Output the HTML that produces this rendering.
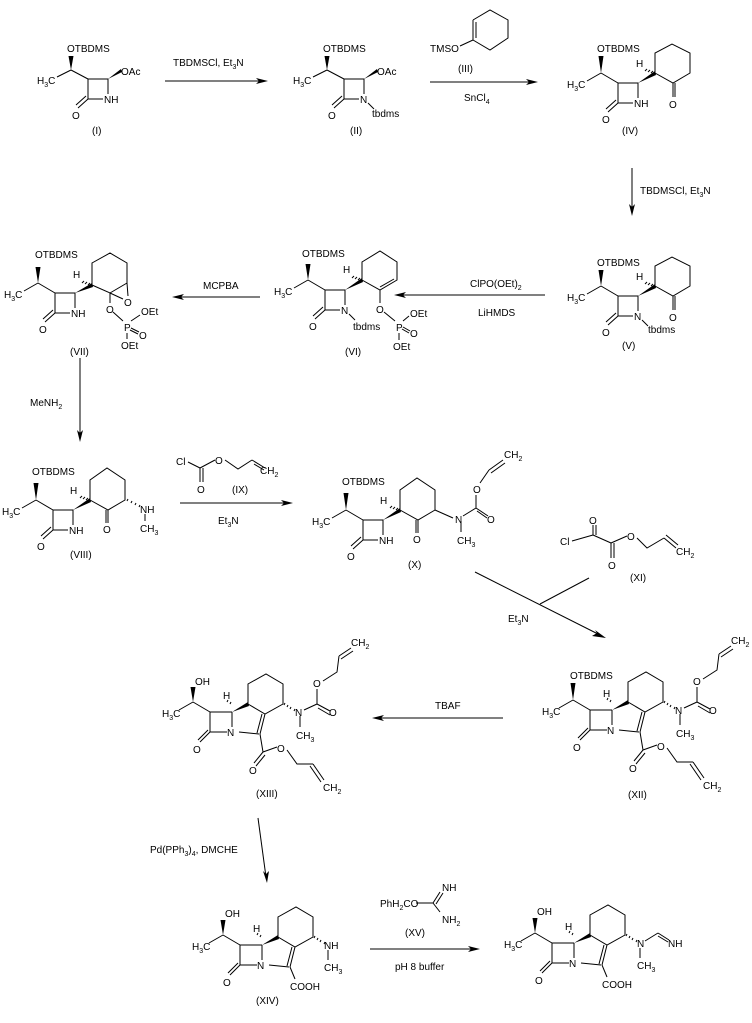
<!DOCTYPE html>
<html><head><meta charset="utf-8"><style>
html,body{margin:0;padding:0;background:#fff;}
svg{display:block;}
text{font-family:"Liberation Sans",Arial,sans-serif;font-size:10px;fill:#000;}
.s{font-size:7px;}
line,path,polyline{stroke:#000;stroke-width:1;fill:none;}
.f{fill:#000;stroke:none;}
</style></head><body>
<svg width="752" height="1023" viewBox="0 0 752 1023" xmlns="http://www.w3.org/2000/svg">

<!-- ===== (I) ===== -->
<g transform="translate(88,79)">
<text x="-21" y="-27">OTBDMS</text>
<polygon class="f" points="-17,-9 -19.5,-23 -14.5,-23"/>
<path d="M-17,-9L0,0 M-17,-9L-31,-2"/>
<text x="-51" y="5">H<tspan class="s" dy="3">3</tspan><tspan dy="-3">C</tspan></text>
<path d="M0,0H20V15 M0,0V20H15"/>
<path d="M0,20L-10,29 M-2,17L-12,26"/>
<text x="-16" y="40">O</text>
<text x="16" y="24">NH</text>
<polygon class="f" points="20,0 33,-10 34,-7"/>
<text x="33" y="-4">OAc</text>
</g>
<text x="92" y="134">(I)</text>

<line x1="165" y1="81" x2="262" y2="81"/>
<polygon class="f" points="268,81 256,78 259,81 256,84"/>
<text x="173" y="66">TBDMSCl, Et<tspan class="s" dy="3">3</tspan><tspan dy="-3">N</tspan></text>

<!-- ===== (II) ===== -->
<g transform="translate(344,79)">
<text x="-21" y="-27">OTBDMS</text>
<polygon class="f" points="-17,-9 -19.5,-23 -14.5,-23"/>
<path d="M-17,-9L0,0 M-17,-9L-31,-2"/>
<text x="-51" y="5">H<tspan class="s" dy="3">3</tspan><tspan dy="-3">C</tspan></text>
<path d="M0,0H20V15 M0,0V20H15"/>
<path d="M0,20L-10,29 M-2,17L-12,26"/>
<text x="-16" y="40">O</text>
<text x="16" y="24">N</text>
<path d="M24,24L30,30"/>
<text x="28" y="38">tbdms</text>
<polygon class="f" points="20,0 33,-10 34,-7"/>
<text x="33" y="-4">OAc</text>
</g>
<text x="350" y="134">(II)</text>

<path d="M473,20V40 M476,22V38 M473,20L490,10L508,20V38L490,50L473,40 M473,40L460,46"/>
<text x="430" y="52">TMSO</text>
<text x="458" y="72">(III)</text>
<line x1="430" y1="82" x2="532" y2="82"/>
<polygon class="f" points="538,82 526,79 529,82 526,85"/>
<text x="464" y="101">SnCl<tspan class="s" dy="3">4</tspan></text>

<!-- ===== (IV) ===== -->
<g transform="translate(618,83)">
<text x="-21" y="-31">OTBDMS</text>
<polygon class="f" points="-17,-10 -19.5,-27 -14.5,-27"/>
<path d="M-17,-10L0,0 M-17,-10L-31,-2"/>
<text x="-51" y="5">H<tspan class="s" dy="3">3</tspan><tspan dy="-3">C</tspan></text>
<path d="M0,0H20V15 M0,0V20H15"/>
<path d="M0,20L-10,29 M-2,17L-12,26"/>
<text x="-16" y="40">O</text>
<text x="16" y="24">NH</text>
<polygon class="f" points="20,0 37,-12 38,-8"/>
<text x="18" y="-16">H</text>
<path d="M27,-12l2,-2 M30,-11l2,-2 M33,-10l2,-2" />
<path d="M37,-10V-30L54,-39L72,-30V-10L55,0Z M55,0V14 M57,0V14"/>
<text x="51" y="25">O</text>
</g>
<text x="622" y="134">(IV)</text>

<line x1="632" y1="168" x2="632" y2="210"/>
<polygon class="f" points="632,216 629,204 632,207 635,204"/>
<text x="640" y="194">TBDMSCl, Et<tspan class="s" dy="3">3</tspan><tspan dy="-3">N</tspan></text>

<!-- ===== (V) ===== -->
<g transform="translate(618,296)">
<text x="-21" y="-30">OTBDMS</text>
<polygon class="f" points="-17,-10 -19.5,-26 -14.5,-26"/>
<path d="M-17,-10L0,0 M-17,-10L-31,-2"/>
<text x="-51" y="5">H<tspan class="s" dy="3">3</tspan><tspan dy="-3">C</tspan></text>
<path d="M0,0H20V15 M0,0V20H15"/>
<path d="M0,20L-10,29 M-2,17L-12,26"/>
<text x="-16" y="40">O</text>
<text x="16" y="24">N</text>
<path d="M24,24L30,30"/>
<text x="30" y="37">tbdms</text>
<polygon class="f" points="20,0 37,-12 38,-8"/>
<text x="18" y="-16">H</text>
<path d="M27,-12l2,-2 M30,-11l2,-2 M33,-10l2,-2" />
<path d="M37,-10V-30L54,-39L72,-30V-10L55,0Z M55,0V14 M57,0V14"/>
<text x="51" y="25">O</text>
</g>
<text x="622" y="349">(V)</text>

<line x1="545" y1="295" x2="400" y2="295"/>
<polygon class="f" points="394,295 406,292 403,295 406,298"/>
<text x="470" y="287">ClPO(OEt)<tspan class="s" dy="3">2</tspan></text>
<text x="478" y="316">LiHMDS</text>

<!-- ===== (VI) ===== -->
<g transform="translate(325,290)">
<text x="-23" y="-33">OTBDMS</text>
<polygon class="f" points="-17,-10 -19.5,-26 -14.5,-26"/>
<path d="M-17,-10L0,0 M-17,-10L-31,-2"/>
<text x="-51" y="5">H<tspan class="s" dy="3">3</tspan><tspan dy="-3">C</tspan></text>
<path d="M0,0H20V15 M0,0V20H15"/>
<path d="M0,20L-10,29 M-2,17L-12,26"/>
<text x="-16" y="40">O</text>
<text x="16" y="24">N</text>
<path d="M24,24L30,30"/>
<text x="28" y="40">tbdms</text>
<polygon class="f" points="20,0 37,-12 38,-8"/>
<text x="18" y="-17">H</text>
<path d="M27,-12l2,-2 M30,-11l2,-2 M33,-10l2,-2" />
<path d="M37,-10V-28L55,-39L72,-28V-10L55,0Z M69,-11L55,-3 M55,0V13"/>
<text x="51" y="23">O</text>
<path d="M59,22L70,31 M74,43V50 M78,31L84,26 M78,37L85,41 M77,39L84,43"/>
<text x="71" y="41">P</text>
<text x="85" y="27">OEt</text>
<text x="85" y="47">O</text>
<text x="68" y="60">OEt</text>
</g>
<text x="345" y="355">(VI)</text>

<line x1="260" y1="297" x2="178" y2="297"/>
<polygon class="f" points="172,297 184,294 181,297 184,300"/>
<text x="203" y="289">MCPBA</text>

<!-- ===== (VII) ===== -->
<g transform="translate(55,293)">
<text x="-20" y="-35">OTBDMS</text>
<polygon class="f" points="-17,-10 -19.5,-26 -14.5,-26"/>
<path d="M-17,-10L0,0 M-17,-10L-31,-2"/>
<text x="-51" y="5">H<tspan class="s" dy="3">3</tspan><tspan dy="-3">C</tspan></text>
<path d="M0,0H20V15 M0,0V20H15"/>
<path d="M0,20L-10,29 M-2,17L-12,26"/>
<text x="-16" y="40">O</text>
<text x="16" y="24">NH</text>
<polygon class="f" points="20,0 37,-10 38,-6"/>
<text x="18" y="-15">H</text>
<path d="M27,-10l2,-2 M30,-9l2,-2 M33,-8l2,-2" />
<path d="M37,-8V-30L55,-40L72,-30V-10L55,0Z M72,-10L73,3 M55,0L68,6"/>
<text x="69" y="13">O</text>
<path d="M55,0V10"/>
<text x="51" y="20">O</text>
<path d="M58,19L68,28 M72,40V46 M76,28L85,22 M76,35L84,39 M75,37L83,41"/>
<text x="69" y="38">P</text>
<text x="86" y="22">OEt</text>
<text x="84" y="46">O</text>
<text x="66" y="56">OEt</text>
</g>
<text x="70" y="355">(VII)</text>

<line x1="80" y1="358" x2="80" y2="436"/>
<polygon class="f" points="80,442 77,430 80,433 83,430"/>
<text x="30" y="406">MeNH<tspan class="s" dy="3">2</tspan></text>

<!-- ===== (VIII) ===== -->
<g transform="translate(53,510)">
<text x="-21" y="-35">OTBDMS</text>
<polygon class="f" points="-17,-10 -19.5,-27 -14.5,-27"/>
<path d="M-17,-10L0,0 M-17,-10L-31,-2"/>
<text x="-51" y="5">H<tspan class="s" dy="3">3</tspan><tspan dy="-3">C</tspan></text>
<path d="M0,0H20V15 M0,0V20H15"/>
<path d="M0,20L-10,29 M-2,17L-12,26"/>
<text x="-16" y="40">O</text>
<text x="16" y="24">NH</text>
<polygon class="f" points="20,0 37,-12 38,-8"/>
<text x="17" y="-16">H</text>
<path d="M27,-12l2,-2 M30,-11l2,-2 M33,-10l2,-2" />
<path d="M37,-10V-30L54,-42L72,-30V-10L55,0Z M55,0V13 M53,0V13"/>
<text x="50" y="23">O</text>
<path d="M74,-9l1,-2 M78,-7l1,-2 M82,-5l1,-2 M86,-3l1,-2 M92,4V11"/>
<text x="87" y="3">NH</text>
<text x="87" y="22">CH<tspan class="s" dy="3">3</tspan></text>
</g>
<text x="70" y="558">(VIII)</text>

<text x="176" y="465">Cl</text>
<path d="M188,462L200,468 M200,468V482 M203,468V482 M200,468L215,460 M225,460L238,469L252,460 M252,460L265,468 M254,464L264,470"/>
<text x="197" y="493">O</text>
<text x="215" y="464">O</text>
<text x="260" y="474">CH<tspan class="s" dy="3">2</tspan></text>
<text x="232" y="493">(IX)</text>
<line x1="180" y1="503" x2="287" y2="503"/>
<polygon class="f" points="293,503 281,500 284,503 281,506"/>
<text x="218" y="524">Et<tspan class="s" dy="3">3</tspan><tspan dy="-3">N</tspan></text>

<!-- ===== (X) ===== -->
<g transform="translate(363,520)">
<text x="-21" y="-35">OTBDMS</text>
<polygon class="f" points="-17,-10 -19.5,-27 -14.5,-27"/>
<path d="M-17,-10L0,0 M-17,-10L-31,-2"/>
<text x="-51" y="5">H<tspan class="s" dy="3">3</tspan><tspan dy="-3">C</tspan></text>
<path d="M0,0H20V15 M0,0V20H15"/>
<path d="M0,20L-10,29 M-2,17L-12,26"/>
<text x="-16" y="40">O</text>
<text x="16" y="24">NH</text>
<polygon class="f" points="20,0 37,-12 38,-8"/>
<text x="17" y="-16">H</text>
<path d="M27,-12l2,-2 M30,-11l2,-2 M33,-10l2,-2" />
<path d="M37,-10V-30L54,-42L72,-30V-10L55,0Z M55,0V13 M53,0V13"/>
<text x="50" y="23">O</text>
<path d="M72,-10L90,-2 M98,1V12 M100,-4L113,-12 M113,-12L125,-4 M114,-9L124,-2 M113,-12V-25 M117,-37L126,-50 M126,-50L140,-60 M128,-47L142,-57"/>
<text x="92" y="3">N</text>
<text x="94" y="24">CH<tspan class="s" dy="3">3</tspan></text>
<text x="124" y="3">O</text>
<text x="110" y="-27">O</text>
<text x="141" y="-62">CH<tspan class="s" dy="3">2</tspan></text>
</g>
<text x="408" y="568">(X)</text>

<!-- (XI) -->
<text x="560" y="545">Cl</text>
<path d="M572,541L593,535 M593,535V525 M596,535V525 M593,535L611,543 M611,543V558 M614,543V558 M611,543L627,536 M637,538L647,548L664,538 M664,538L676,548 M666,535L678,545"/>
<text x="589" y="524">O</text>
<text x="608" y="569">O</text>
<text x="627" y="540">O</text>
<text x="676" y="555">CH<tspan class="s" dy="3">2</tspan></text>
<text x="630" y="581">(XI)</text>

<line x1="475" y1="572" x2="600" y2="635"/>
<polygon class="f" points="606,638 595,630 597,633 592,636"/>
<line x1="540" y1="604" x2="589" y2="578"/>
<text x="508" y="622">Et<tspan class="s" dy="3">3</tspan><tspan dy="-3">N</tspan></text>

<!-- ===== (XII) ===== -->
<g transform="translate(590,710)">
<text x="-20" y="-31">OTBDMS</text>
<polygon class="f" points="-17,-10 -19.5,-27 -14.5,-27"/>
<path d="M-17,-10L0,0 M-17,-10L-31,-2"/>
<text x="-48" y="5">H<tspan class="s" dy="3">3</tspan><tspan dy="-3">C</tspan></text>
<path d="M0,0H22 M0,0V20H17"/>
<path d="M0,20L-10,30 M-2,18L-12,28"/>
<text x="-17" y="41">O</text>
<text x="17" y="24">N</text>
<path d="M22,0V15"/>
<polygon class="f" points="22,0 38,-10 39,-6"/>
<text x="13" y="-13">H</text>
<path d="M20,-8l1,-2 M17,-10l1,-2"/>
<path d="M38,-8V-28L56,-38L73,-28V-8L55,2Z M55,2L50,22 M52,2L47,21 M29,20L49,22"/>
<path d="M74,-7l1,-2 M77,-5l1,-2 M80,-3l1,-2 M84,-1l1,-2 M90,4V15"/>
<text x="85" y="4">N</text>
<text x="86" y="27">CH<tspan class="s" dy="3">3</tspan></text>
<path d="M94,-2L107,-8 M107,-8L120,-1 M108,-4L120,3 M107,-8V-23 M113,-31L127,-40L129,-56 M129,-56L141,-64 M131,-53L143,-61"/>
<text x="119" y="4">O</text>
<text x="103" y="-25">O</text>
<text x="141" y="-66">CH<tspan class="s" dy="3">2</tspan></text>
<path d="M50,22L53,40 M53,40L44,51 M55,43L46,54 M53,40L67,35 M77,38L87,52L103,52 M103,52L114,68 M100,54L111,70"/>
<text x="39" y="62">O</text>
<text x="67" y="40">O</text>
<text x="113" y="79">CH<tspan class="s" dy="3">2</tspan></text>
</g>
<text x="628" y="798">(XII)</text>

<line x1="503" y1="718" x2="378" y2="718"/>
<polygon class="f" points="372,718 384,715 381,718 384,721"/>
<text x="435" y="709">TBAF</text>

<!-- ===== (XIII) ===== -->
<g transform="translate(210,712)">
<text x="-15" y="-27">OH</text>
<polygon class="f" points="-17,-10 -19.5,-25 -14.5,-25"/>
<path d="M-17,-10L0,0 M-17,-10L-31,-2"/>
<text x="-48" y="5">H<tspan class="s" dy="3">3</tspan><tspan dy="-3">C</tspan></text>
<path d="M0,0H22 M0,0V20H17"/>
<path d="M0,20L-10,30 M-2,18L-12,28"/>
<text x="-17" y="41">O</text>
<text x="17" y="24">N</text>
<path d="M22,0V15"/>
<polygon class="f" points="22,0 38,-10 39,-6"/>
<text x="13" y="-13">H</text>
<path d="M20,-8l1,-2 M17,-10l1,-2"/>
<path d="M38,-8V-28L56,-38L73,-28V-8L55,2Z M55,2L50,22 M52,2L47,21 M29,20L49,22"/>
<path d="M74,-7l1,-2 M77,-5l1,-2 M80,-3l1,-2 M84,-1l1,-2 M90,4V15"/>
<text x="85" y="4">N</text>
<text x="86" y="27">CH<tspan class="s" dy="3">3</tspan></text>
<path d="M94,-2L107,-8 M107,-8L120,-1 M108,-4L120,3 M107,-8V-23 M113,-31L127,-40L129,-56 M129,-56L141,-64 M131,-53L143,-61"/>
<text x="119" y="4">O</text>
<text x="103" y="-25">O</text>
<text x="141" y="-66">CH<tspan class="s" dy="3">2</tspan></text>
<path d="M50,22L53,40 M53,40L44,51 M55,43L46,54 M53,40L67,35 M77,38L87,52L103,52 M103,52L114,68 M100,54L111,70"/>
<text x="39" y="62">O</text>
<text x="67" y="40">O</text>
<text x="113" y="79">CH<tspan class="s" dy="3">2</tspan></text>
</g>
<text x="256" y="797">(XIII)</text>

<line x1="258" y1="818" x2="266" y2="877"/>
<polygon class="f" points="267,883 263,871 266,874 269,871"/>
<text x="150" y="853">Pd(PPh<tspan class="s" dy="3">3</tspan><tspan dy="-3">)</tspan><tspan class="s" dy="3">4</tspan><tspan dy="-3">, DMCHE</tspan></text>

<!-- ===== (XIV) ===== -->
<g transform="translate(240,945)">
<text x="-15" y="-28">OH</text>
<polygon class="f" points="-17,-10 -19.5,-25 -14.5,-25"/>
<path d="M-17,-10L0,0 M-17,-10L-31,-2"/>
<text x="-48" y="5">H<tspan class="s" dy="3">3</tspan><tspan dy="-3">C</tspan></text>
<path d="M0,0H22 M0,0V20H17"/>
<path d="M0,20L-10,30 M-2,18L-12,28"/>
<text x="-17" y="41">O</text>
<text x="17" y="24">N</text>
<path d="M22,0V15"/>
<polygon class="f" points="22,0 38,-10 39,-6"/>
<text x="13" y="-13">H</text>
<path d="M20,-8l1,-2 M17,-10l1,-2"/>
<path d="M38,-8V-28L56,-38L73,-28V-8L55,2Z M55,2L50,22 M52,2L47,21 M29,20L49,22"/>
<path d="M74,-7l1,-2 M77,-5l1,-2 M80,-3l1,-2 M84,-1l1,-2 M88,5V15"/>
<text x="84" y="4">NH</text>
<text x="84" y="26">CH<tspan class="s" dy="3">3</tspan></text>
<path d="M50,22L55,34"/>
<text x="50" y="45">COOH</text>
</g>
<text x="256" y="1004">(XIV)</text>

<text x="380" y="907">PhH<tspan class="s" dy="3">2</tspan><tspan dy="-3">CO</tspan></text>
<path d="M416,903H433 M433,903L440,892 M436,904L443,893 M433,903L440,912"/>
<text x="442" y="891">NH</text>
<text x="442" y="923">NH<tspan class="s" dy="3">2</tspan></text>
<text x="405" y="936">(XV)</text>
<line x1="370" y1="949" x2="474" y2="949"/>
<polygon class="f" points="480,949 468,946 471,949 468,952"/>
<text x="395" y="970">pH 8 buffer</text>

<!-- ===== final ===== -->
<g transform="translate(552,943)">
<text x="-15" y="-28">OH</text>
<polygon class="f" points="-17,-10 -19.5,-25 -14.5,-25"/>
<path d="M-17,-10L0,0 M-17,-10L-31,-2"/>
<text x="-48" y="5">H<tspan class="s" dy="3">3</tspan><tspan dy="-3">C</tspan></text>
<path d="M0,0H22 M0,0V20H17"/>
<path d="M0,20L-10,30 M-2,18L-12,28"/>
<text x="-17" y="41">O</text>
<text x="17" y="24">N</text>
<path d="M22,0V15"/>
<polygon class="f" points="22,0 38,-10 39,-6"/>
<text x="13" y="-13">H</text>
<path d="M20,-8l1,-2 M17,-10l1,-2"/>
<path d="M38,-8V-28L56,-38L73,-28V-8L55,2Z M55,2L50,22 M52,2L47,21 M29,20L49,22"/>
<path d="M74,-7l1,-2 M77,-5l1,-2 M80,-3l1,-2 M84,-1l1,-2 M88,5V15"/>
<text x="85" y="4">N</text>
<text x="85" y="26">CH<tspan class="s" dy="3">3</tspan></text>
<path d="M93,-2L106,-10 M106,-10L117,-3 M106,-7L116,-1"/>
<text x="116" y="4">NH</text>
<path d="M50,22L55,34"/>
<text x="50" y="45">COOH</text>
</g>
</svg>
</body></html>
